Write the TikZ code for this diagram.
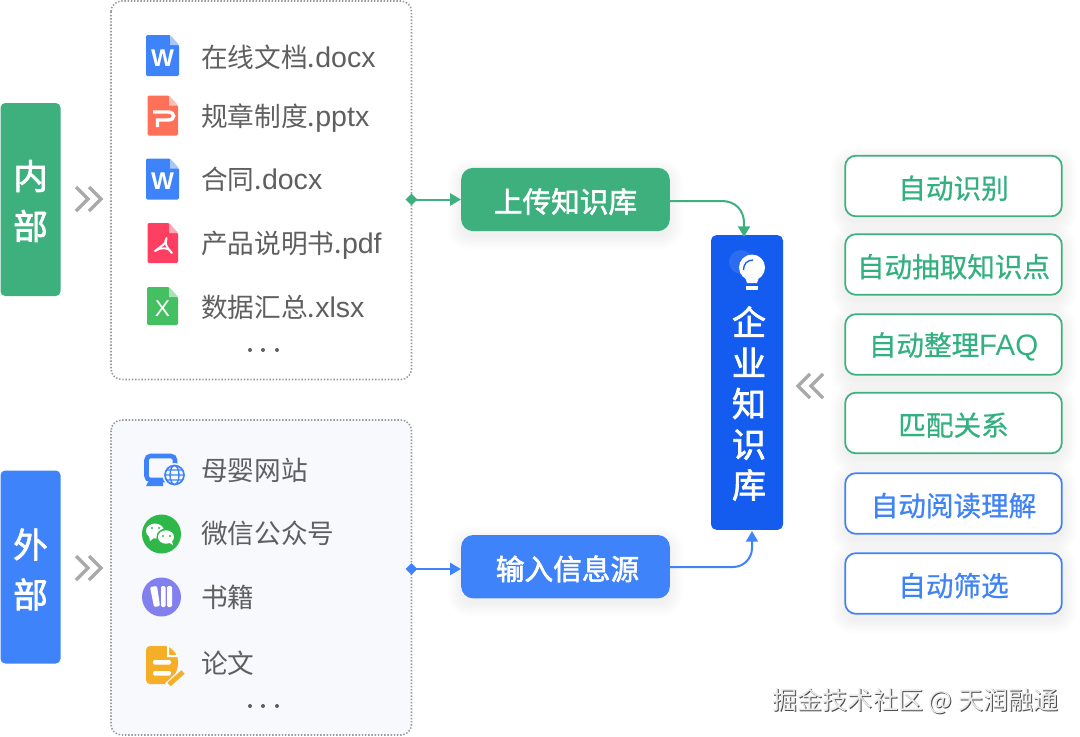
\documentclass[tikz,border=0pt]{standalone}
\usepackage{fontspec}
\setmainfont{Noto Sans CJK SC}
\newfontfamily\medf[FakeBold=2]{Noto Sans CJK SC}
\newfontfamily\tagf[FakeBold=0.6]{Noto Sans CJK SC}
\newfontfamily\latinf[Scale=1.07]{Liberation Sans}
\usetikzlibrary{arrows.meta,shapes.geometric,calc}
\definecolor{cgreen}{HTML}{3DB07E}
\definecolor{cblue}{HTML}{3F83FA}
\definecolor{cdeep}{HTML}{145CEF}
\definecolor{ctxt}{HTML}{5F5F5F}
\definecolor{cdot}{HTML}{9A9A9A}
\definecolor{cpanel}{HTML}{F7F9FD}
\definecolor{cgreent}{HTML}{33B07F}
\definecolor{cbluet}{HTML}{3F83F5}
\definecolor{cppt}{HTML}{FF7058}
\definecolor{cpdf}{HTML}{FF3F62}
\definecolor{cxls}{HTML}{44BF62}
\definecolor{cwx}{HTML}{2FB84A}
\definecolor{cbook}{HTML}{8280EE}
\definecolor{cpaper}{HTML}{F5AE27}
\tikzset{
  x=0.75pt,y=-0.75pt,
  side/.style={rounded corners=3.5pt,minimum width=45pt,minimum height=144.75pt,inner sep=0pt},
  sidetxt/.style={inner sep=0pt,text=white,font=\medf\fontsize{26}{37.5}\selectfont,align=center},
  panel/.style={draw=cdot,line width=1.2pt,dash pattern=on 1.1pt off 1.3pt,rounded corners=8pt},
  action/.style={rounded corners=9pt,minimum width=156.5pt,minimum height=47.5pt,inner sep=0pt,text=white,font=\medf\fontsize{21.5}{25}\selectfont},
  item/.style={anchor=base west,inner sep=0pt,text=ctxt,font=\fontsize{20}{24}\selectfont},
  tagbox/.style={draw,line width=1.3pt,fill=white,rounded corners=8pt,minimum width=162.5pt,minimum height=45.5pt,inner sep=0pt,font=\tagf\fontsize{20.7}{25}\selectfont},
  gtag/.style={tagbox,draw=cgreen,text=cgreent},
  btag/.style={tagbox,draw=cblue,text=cbluet},
  chev/.style={draw=#1,line width=2.6pt,miter limit=4},
  link/.style={draw=#1,line width=1.5pt,-{Triangle[length=8pt,width=9pt,fill=#1]}},
  startd/.style={diamond,fill=#1,inner sep=0pt,minimum size=9pt},
}
\newcommand{\low}[1]{\setbox0=\hbox{#1}\raisebox{-1.6pt}[\ht0][\dp0]{\copy0}}
\newcommand{\softshadow}[4]{%
  \foreach \d in {1,3,5,7,9,11,13}{
    \fill[black,opacity=.007,rounded corners={8pt+\d*0.6pt}] ({#1-\d},{#2-\d+5}) rectangle ({#3+\d},{#4+\d+5});
  }
}
\newcommand{\fileicon}[5]{%
  \fill[#5,rounded corners=1pt] (#1,#2) -- ({#1+#3-9},#2) -- ({#1+#3},{#2+10}) -- ({#1+#3},{#2+#4}) -- (#1,{#2+#4}) -- cycle;
  \fill[white,opacity=.55] ({#1+#3-9},#2) -- ({#1+#3},{#2+10}) -- ({#1+#3-9},{#2+10}) -- cycle;
}
\begin{document}
\begin{tikzpicture}
\useasboundingbox (0,0) rectangle (1080,736);
\fill[white] (0,0) rectangle (1080,736);

% side labels
\node[side,fill=cgreen] (inner) at (30.5,199.5) {};
\node[sidetxt] (innert) at (30.5,201) {内\\部};
\node[side,fill=cblue] (outer) at (30.5,567) {};
\node[sidetxt] (outert) at (30.5,569.5) {外\\部};

% chevrons
\foreach \dx in {0,13}{
 \draw[chev=cdot!85!white] ({76+\dx},187) -- ({88+\dx},199) -- ({76+\dx},211);
 \draw[chev=cdot!85!white] ({76+\dx},556) -- ({88+\dx},568) -- ({76+\dx},580);
 \draw[chev=cdot!85!white] ({823-\dx},374) -- ({811-\dx},386) -- ({823-\dx},398);
}

% panels
\draw[panel,fill=white] (111,1) rectangle (411.5,379.5);
\draw[panel,fill=cpanel] (111,420) rectangle (411.5,735);
\coordinate (topport) at (411.5,199.5);
\coordinate (botport) at (411.5,569);

% file icons
\fileicon{146}{35}{33}{41}{cblue}
\node[text=white,font=\latinf\bfseries\fontsize{17}{17}\selectfont] (w1) at (162.5,58) {W};
\fileicon{147.5}{95.5}{30.5}{40}{cppt}
\draw[white,line width=2.6pt] (153,112) -- (168,112) .. controls (175.5,112) and (175.5,120) .. (168,120) -- (157.5,120) -- (157.5,127);
\fileicon{146}{158.5}{33}{41}{cblue}
\node[text=white,font=\latinf\bfseries\fontsize{17}{17}\selectfont] (w2) at (162.5,181.5) {W};
\fileicon{147.5}{223}{30.5}{40}{cpdf}
\draw[white,line width=1.4pt,line join=round,line cap=round] (155,251) .. controls (160,246) and (168,244) .. (166.5,238) .. controls (163,241) and (168,250) .. (172,253) .. controls (170,247) and (160,247) .. (155,251);
\fileicon{147}{287}{31}{38}{cxls}
\node[text=white,font=\latinf\fontsize{16}{16}\selectfont] (x1) at (162.5,309) {X};

% file labels
\node[item] (t1) at (201,67) {在线文档.\latinf docx};
\node[item] (t2) at (201,126) {规章制度.\latinf pptx};
\node[item] (t3) at (201,189.5) {合同.\latinf docx};
\node[item] (t4) at (201,253) {产品说明书.\latinf pdf};
\node[item] (t5) at (201,317) {数据汇总.\latinf xlsx};
\foreach \x in {250,263,277}{\fill[ctxt] (\x,350) circle (2);\fill[ctxt] (\x,706) circle (2);}

% outer icons
\draw[cblue,line width=3.4pt,rounded corners=3pt] (172,480) -- (146.5,480) -- (146.5,456) -- (175,456) -- (175,465);
\fill[cblue] (148,482) -- (163,480) -- (163,486) -- (146,486) -- cycle;
\fill[cpanel] (174.5,475) circle (12);
\draw[cblue,line width=1.3pt] (174.5,475) circle (9.5);
\draw[cblue,line width=1pt] (174.5,475) ellipse (4.5 and 9.5) (165,475) -- (184,475) (166.5,470) -- (182.5,470) (166.5,480) -- (182.5,480);

\fill[cwx] (161.5,534) circle (19.5);
\fill[white] (155,531) ellipse (9 and 7.5);
\fill[white] (149,536) -- (150,541) -- (155,537) -- cycle;
\fill[cwx] (166,537) ellipse (9.5 and 8.5);
\fill[white] (166,537) ellipse (8 and 6.7);
\fill[white] (172,541) -- (173,545) -- (168,542) -- cycle;
\foreach \p in {(152,528),(159,528),(163,536),(170,536)}{\fill[cwx] \p circle (1.2);}

\fill[cbook] (161.5,597) circle (19.5);
\fill[white,rounded corners=1pt] (150,587) -- (157,586) -- (160,606) -- (154,607) -- cycle;
\fill[white,rounded corners=1pt] (161,586) rectangle (165.5,607);
\fill[white,rounded corners=1pt] (167,586) rectangle (172,607);

\fill[cpaper,rounded corners=3pt] (146,646) -- (169,646) -- (178,656) -- (178,668) -- (170,684) -- (146,684) -- cycle;
\fill[white] (169,646) -- (169,655) -- (178,655) -- (178,657) -- (167,657) -- (167,646) -- cycle;
\fill[white,rounded corners=1pt] (153,660) rectangle (171,664.5);
\fill[white,rounded corners=1pt] (153,671) rectangle (171,675.5);
\draw[cpanel,line width=6pt] (168,686) -- (184,671);
\draw[cpaper,line width=3.6pt] (169,684.5) -- (183,672);

\node[item] (o1) at (201,480) {母婴网站};
\node[item] (o2) at (201,543) {微信公众号};
\node[item] (o3) at (201,607) {书籍};
\node[item] (o4) at (201,673) {论文};

% actions
\softshadow{461}{168}{669.5}{231}
\softshadow{461}{535}{669.5}{598}
\node[action,fill=cgreen] (upload) at (565.5,199.5) {\low{上传知识库}};
\node[action,fill=cblue] (input) at (565.5,566.7) {\hspace*{3pt}\low{输入信息源}};

% center
\node[fill=cdeep,rounded corners=4pt,minimum width=54pt,minimum height=221pt,inner sep=0pt] (kb) at (747,382.5) {};
\fill[white,opacity=.1] (741,262) circle (12);
\fill[white] (752,267.5) circle (13);
\fill[white] (744,274) -- (760,274) -- (757,283) -- (747,283) -- cycle;
\fill[white] (746,286) rectangle (758,290);
\draw[cdeep,line width=1pt] (743.5,270) .. controls (743.5,264) and (747,260) .. (753,260);
\node[inner sep=0pt,text=white,font=\medf\fontsize{25.5}{30.5}\selectfont,align=center] (kbt) at (749,403.5) {企\\业\\知\\识\\库};

% connectors
\node[startd=cgreen] (dg) at (topport) {};
\node[startd=cblue] (db) at (botport) {};
\draw[link=cgreen] (dg.center) -- (dg.center -| upload.west);
\draw[link=cblue] (db.center) -- (db.center -| input.west);
\coordinate (gs) at (669.5,201);
\coordinate (ge) at (744,237);
\coordinate (bs) at (669.5,567);
\coordinate (be) at (752,531);
\draw[link=cgreen] (gs) -- (722,201) .. controls (735,201) and (744,210) .. (744,223) -- (ge);
\draw[link=cblue] (bs) -- (733,567) .. controls (744,567) and (752,558) .. (752,548) -- (be);

% right tags
\softshadow{844}{155}{1063}{217}
\softshadow{844}{233}{1063}{296}
\softshadow{844}{313}{1063}{376}
\softshadow{844}{392}{1063}{454}
\softshadow{844}{472}{1063}{535}
\softshadow{844}{552}{1063}{615}
\node[gtag] (a1) at (953.5,186) {\low{自动识别}};
\node[gtag] (a2) at (953.5,264.5) {\low{自动抽取知识点}};
\node[gtag] (a3) at (953.5,344.5) {\low{自动整理{\latinf FAQ}}};
\node[gtag] (a4) at (953.5,423) {\low{匹配关系}};
\node[btag] (a5) at (953.5,503.5) {\low{自动阅读理解}};
\node[btag] (a6) at (953.5,583.5) {\low{自动筛选}};

% watermark
\node[inner sep=0pt,text=black!70,font=\fontsize{18.8}{22}\selectfont,anchor=east] (wmb) at (1059.6,701.6) {掘金技术社区 @ 天润融通};
\node[inner sep=0pt,text=black!8,font=\fontsize{18.8}{22}\selectfont,anchor=east] (wm) at (1058.6,700.6) {掘金技术社区 @ 天润融通};
\end{tikzpicture}
\end{document}
